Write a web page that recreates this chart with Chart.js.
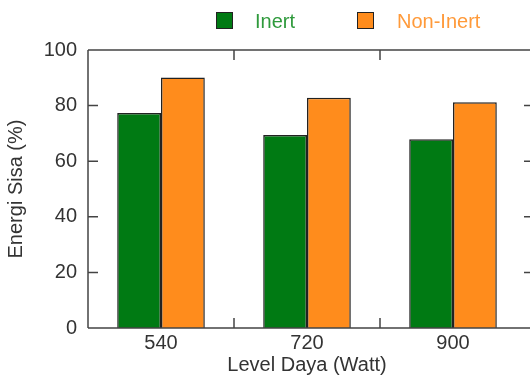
<!DOCTYPE html>
<html>
<head>
<meta charset="utf-8">
<script src="https://cdn.jsdelivr.net/npm/chart.js@4/dist/chart.umd.min.js"></script>
<style>
html,body{margin:0;padding:0;background:#fff;overflow:hidden;}
#wrap{position:relative;width:530px;height:379px;}
canvas{position:absolute;left:0;top:0;}
.lg{position:absolute;font-family:"Liberation Sans",Arial,sans-serif;font-size:20px;line-height:20px;}
.box{position:absolute;width:15px;height:15px;border:1.5px solid #222;}
</style>
</head>
<body>
<div id="wrap">
<canvas id="c" width="530" height="379"></canvas>
<div class="box" style="left:216px;top:12px;background:#007a13;"></div>
<div class="lg" style="left:255px;top:11px;color:#2f9a3c;">Inert</div>
<div class="box" style="left:357px;top:12px;background:#ff8c1c;"></div>
<div class="lg" style="left:397px;top:11px;color:#ff9a3a;">Non-Inert</div>
</div>
<script>
const categories = ["540", "720", "900"];
const inert = [77.3, 69.4, 67.9];
const nonInert = [90.1, 82.8, 81.2];
const yTicks = [0, 20, 40, 60, 80, 100];

const frame = {
  id: 'frame',
  afterDatasetsDraw(chart) {
    const {ctx, chartArea: a, scales: {x, y}} = chart;
    const W = chart.width;
    ctx.save();
    ctx.strokeStyle = '#444';
    ctx.lineWidth = 1.5;
    ctx.beginPath();
    ctx.moveTo(a.left, a.top); ctx.lineTo(a.left, a.bottom);
    ctx.moveTo(a.left, a.top); ctx.lineTo(W, a.top);
    ctx.moveTo(a.left, a.bottom); ctx.lineTo(W, a.bottom);
    yTicks.forEach(v => {
      const py = y.getPixelForValue(v);
      ctx.moveTo(a.left, py); ctx.lineTo(a.left + 10, py);
      ctx.moveTo(W - 6, py); ctx.lineTo(W, py);
    });
    for (let i = 0; i < categories.length - 1; i++) {
      const px = (x.getPixelForValue(i) + x.getPixelForValue(i + 1)) / 2;
      ctx.moveTo(px, a.top); ctx.lineTo(px, a.top + 10);
      ctx.moveTo(px, a.bottom); ctx.lineTo(px, a.bottom - 10);
    }
    ctx.stroke();
    ctx.restore();
  }
};

new Chart(document.getElementById('c'), {
  type: 'bar',
  data: {
    labels: categories,
    datasets: [
      {label: 'Inert', data: inert, backgroundColor: '#007a13', borderColor: '#222', borderWidth: 1.5, borderSkipped: 'bottom'},
      {label: 'Non-Inert', data: nonInert, backgroundColor: '#ff8c1c', borderColor: '#222', borderWidth: 1.5, borderSkipped: 'bottom'}
    ]
  },
  options: {
    responsive: false,
    animation: false,
    devicePixelRatio: 1,
    layout: {padding: {top: 50, right: 4, left: 0, bottom: 0}},
    datasets: {bar: {categoryPercentage: 0.6, barPercentage: 1.0}},
    plugins: {legend: {display: false}, tooltip: {enabled: false}},
    scales: {
      x: {
        grid: {display: false, drawTicks: false},
        border: {display: false},
        ticks: {color: '#333', font: {family: 'Liberation Sans', size: 20}, padding: 3},
        title: {display: true, text: 'Level Daya (Watt)', color: '#333', font: {family: 'Liberation Sans', size: 20}, padding: {top: 0, bottom: 2}},
        afterFit(s) { s.height = 51; }
      },
      y: {
        min: 0, max: 100,
        grid: {display: false, drawTicks: false},
        border: {display: false},
        ticks: {stepSize: 20, color: '#333', font: {family: 'Liberation Sans', size: 20}, padding: 11},
        title: {display: true, text: 'Energi Sisa (%)', color: '#333', font: {family: 'Liberation Sans', size: 20}, padding: {top: 4, bottom: 0}},
        afterFit(s) { s.width = 88; }
      }
    }
  },
  plugins: [frame]
});
</script>
</body>
</html>
